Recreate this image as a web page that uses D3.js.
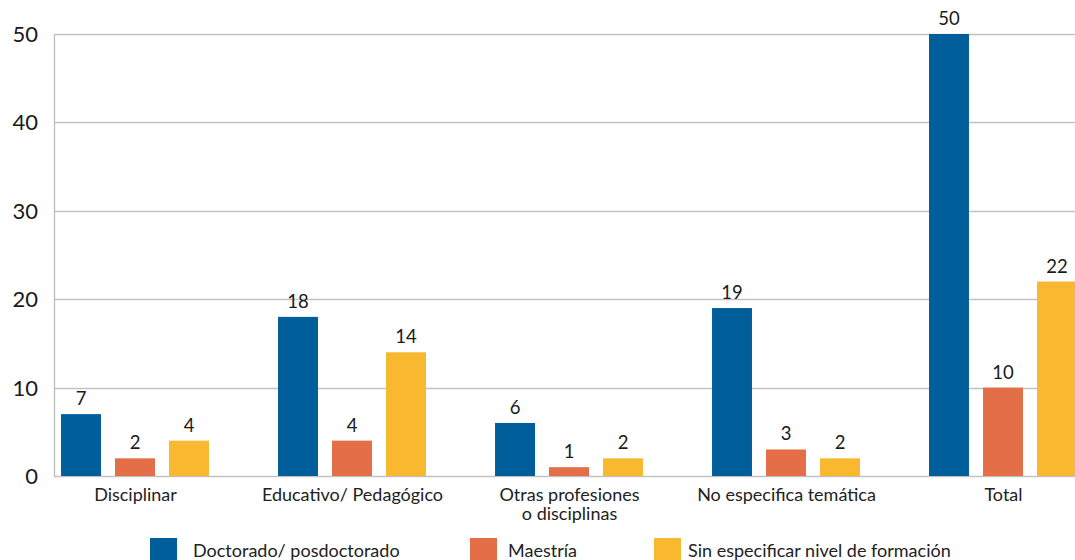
<!DOCTYPE html>
<html>
<head>
<meta charset="utf-8">
<script src="https://cdn.jsdelivr.net/npm/d3@7"></script>
<style>
  html, body { margin: 0; padding: 0; background: #fff; }
  svg { display: block; font-family: Lato, "Noto Sans", sans-serif; }
</style>
</head>
<body>
<svg id="chart" width="1075" height="560"></svg>
<script>
// Categories (x axis), possibly with line breaks
const categories = ["Disciplinar", "Educativo/ Pedagógico", "Otras profesiones\no disciplinas", "No especifica temática", "Total"];
// Series names (legend)
const seriesNames = ["Doctorado/ posdoctorado", "Maestría", "Sin especificar nivel de formación"];
// Values per series, in category order
const doctorado = [7, 18, 6, 19, 50];
const maestria = [2, 4, 1, 3, 10];
const sinEspecificar = [4, 14, 2, 2, 22];
// Y axis ticks
const yTicks = [0, 10, 20, 30, 40, 50];

const seriesValues = [doctorado, maestria, sinEspecificar];
const colors = ["#005f9b", "#e46e48", "#f8b931"];

const svg = d3.select("#chart");
const W = 1075, H = 560;
const axisX = 54.5;

const y = d3.scaleLinear().domain([0, 50]).range([476, 34]);

const x0 = d3.scaleBand().domain(categories).range([27, 27 + 217 * 5]).padding(0);
const x1 = d3.scaleBand().domain(d3.range(3)).range([0, 162])
  .paddingInner(0.26).paddingOuter(0.13);

// Horizontal gridlines
svg.append("g")
  .selectAll("line")
  .data(yTicks)
  .join("line")
  .attr("x1", axisX).attr("x2", W)
  .attr("y1", d => Math.round(y(d)) + 0.5).attr("y2", d => Math.round(y(d)) + 0.5)
  .attr("stroke", "#c2c2c2").attr("stroke-width", 1.3);

// Left axis line
svg.append("line")
  .attr("x1", axisX).attr("x2", axisX)
  .attr("y1", y(50)).attr("y2", y(0) + 1)
  .attr("stroke", "#bdbdbd").attr("stroke-width", 1.3);

// Y tick labels
svg.append("g")
  .selectAll("text")
  .data(yTicks)
  .join("text")
  .attr("x", 38)
  .attr("y", d => y(d))
  .attr("dy", "0.36em")
  .attr("text-anchor", "end")
  .attr("font-size", 22)
  .attr("fill", "#1a1a1a")
  .text(d => d);

// Bars with value labels
const groups = svg.append("g")
  .selectAll("g")
  .data(categories)
  .join("g")
  .attr("transform", c => `translate(${x0(c) + 27},0)`);

groups.each(function(c, ci) {
  const g = d3.select(this);
  seriesValues.forEach((vals, si) => {
    const v = vals[ci];
    g.append("rect")
      .attr("x", x1(si))
      .attr("width", x1.bandwidth())
      .attr("y", y(v))
      .attr("height", y(0) - y(v))
      .attr("fill", colors[si]);
    g.append("text")
      .attr("x", x1(si) + x1.bandwidth() / 2)
      .attr("y", y(v) - 9)
      .attr("text-anchor", "middle")
      .attr("font-size", 18.5)
      .attr("fill", "#1a1a1a")
      .text(v);
  });
});

// Category labels
const catLabels = svg.append("g")
  .selectAll("text")
  .data(categories)
  .join("text")
  .attr("x", c => x0(c) + x0.bandwidth() / 2)
  .attr("y", 501)
  .attr("text-anchor", "middle")
  .attr("font-size", 18)
  .attr("fill", "#222");
catLabels.each(function(c) {
  const t = d3.select(this);
  c.split("\n").forEach((line, i) => {
    t.append("tspan")
      .attr("x", t.attr("x"))
      .attr("dy", i === 0 ? 0 : 19)
      .text(line);
  });
});

// Legend
const legendX = [150, 470, 654];
const legend = svg.append("g")
  .selectAll("g")
  .data(seriesNames)
  .join("g")
  .attr("transform", (d, i) => `translate(${legendX[i]},538)`);
legend.append("rect")
  .attr("width", 27).attr("height", 24)
  .attr("fill", (d, i) => colors[i]);
legend.append("text")
  .attr("x", (d, i) => i === 0 ? 43 : (i === 1 ? 38 : 34))
  .attr("y", 19)
  .attr("font-size", 18)
  .attr("fill", "#222")
  .text(d => d);
</script>
</body>
</html>
